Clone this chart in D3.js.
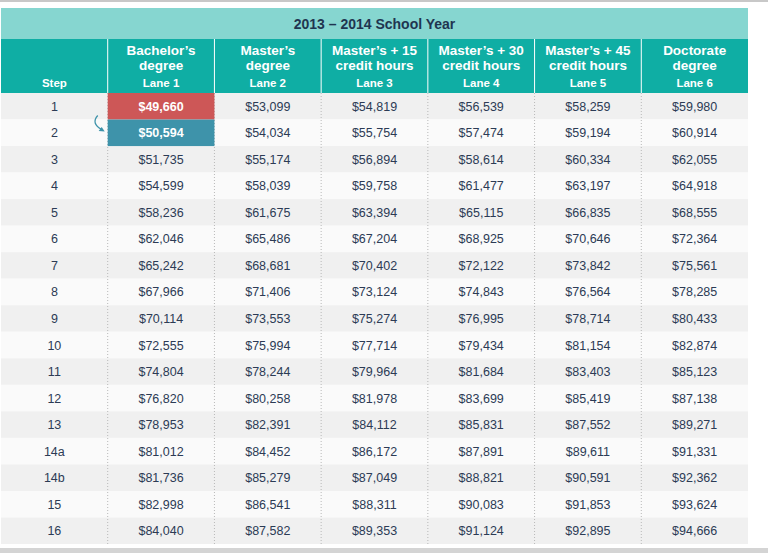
<!DOCTYPE html>
<html><head><meta charset="utf-8">
<script src="https://cdn.jsdelivr.net/npm/d3@7"></script>
<style>body{margin:0;background:#fff}svg{display:block;font-family:"Liberation Sans",Arial,sans-serif}</style>
</head><body><svg id="c" width="768" height="553"></svg>
<script>
const title = "2013 – 2014 School Year";
const laneTitles = [["Bachelor’s","degree"],["Master’s","degree"],["Master’s + 15","credit hours"],["Master’s + 30","credit hours"],["Master’s + 45","credit hours"],["Doctorate","degree"]];
const laneLabels = ["Lane 1","Lane 2","Lane 3","Lane 4","Lane 5","Lane 6"];
const steps = ["1","2","3","4","5","6","7","8","9","10","11","12","13","14a","14b","15","16"];
const lane1 = [49660,50594,51735,54599,58236,62046,65242,67966,70114,72555,74804,76820,78953,81012,81736,82998,84040];
const lane2 = [53099,54034,55174,58039,61675,65486,68681,71406,73553,75994,78244,80258,82391,84452,85279,86541,87582];
const lane3 = [54819,55754,56894,59758,63394,67204,70402,73124,75274,77714,79964,81978,84112,86172,87049,88311,89353];
const lane4 = [56539,57474,58614,61477,65115,68925,72122,74843,76995,79434,81684,83699,85831,87891,88821,90083,91124];
const lane5 = [58259,59194,60334,63197,66835,70646,73842,76564,78714,81154,83403,85419,87552,89611,90591,91853,92895];
const lane6 = [59980,60914,62055,64918,68555,72364,75561,78285,80433,82874,85123,87138,89271,91331,92362,93624,94666];
const lanes = [lane1,lane2,lane3,lane4,lane5,lane6];

const svg = d3.select("#c");
const L = 1, R = 748;
const cols = ["step", ...laneLabels];
const x = d3.scaleBand().domain(cols).range([L, R]);
// step column narrower? use custom widths via band; steps col ~107 as all
const y = d3.scaleBand().domain(steps).range([93, 544]);
const fmt = v => "$" + d3.format(",")(v);
const txt = "#2c3b55";

svg.append("rect").attr("x",0).attr("y",0).attr("width",768).attr("height",2).attr("fill","#c8c8c8");
svg.append("rect").attr("x",0).attr("y",548).attr("width",768).attr("height",5).attr("fill","#d4d4d4");
svg.append("rect").attr("x",L).attr("y",8).attr("width",R-L).attr("height",31).attr("fill","#86d6d0");
svg.append("text").attr("x",(L+R)/2).attr("y",29).attr("text-anchor","middle").attr("font-size",14).attr("font-weight","bold").attr("fill","#1f3550").text(title);
svg.append("rect").attr("x",L).attr("y",39).attr("width",R-L).attr("height",54).attr("fill","#0faea4");

// rows
svg.selectAll("rect.row").data(steps).join("rect").attr("class","row")
  .attr("x",L).attr("y",d=>y(d)).attr("width",R-L).attr("height",y.bandwidth())
  .attr("fill",(d,i)=>i%2===0?"#f0f0f0":"#fafafa");

// header
const hg = svg.append("g");
laneTitles.forEach((t,i)=>{
  const cx = x(laneLabels[i]) + x.bandwidth()/2;
  t.forEach((s,j)=> hg.append("text").attr("x",cx).attr("y",55+j*15).attr("text-anchor","middle").attr("font-size",13.5).attr("font-weight","bold").attr("fill","#fff").text(s));
  hg.append("text").attr("x",cx).attr("y",87).attr("text-anchor","middle").attr("font-size",11.5).attr("font-weight","bold").attr("fill","#fff").text(laneLabels[i]);
});
hg.append("text").attr("x",x("step")+x.bandwidth()/2).attr("y",87).attr("text-anchor","middle").attr("font-size",11.5).attr("font-weight","bold").attr("fill","#fff").text("Step");
laneLabels.forEach(l=> svg.append("line").attr("x1",x(l)).attr("x2",x(l)).attr("y1",39).attr("y2",93).attr("stroke","#fff").attr("stroke-width",1));
laneLabels.forEach(l=> svg.append("line").attr("x1",x(l)).attr("x2",x(l)).attr("y1",93).attr("y2",544).attr("stroke","#b8b8b8").attr("stroke-dasharray","1,2"));

// highlight cells
svg.append("rect").attr("x",x("Lane 1")).attr("y",y("1")).attr("width",x.bandwidth()).attr("height",y.bandwidth()).attr("fill","#cd5757");
svg.append("rect").attr("x",x("Lane 1")).attr("y",y("2")).attr("width",x.bandwidth()).attr("height",y.bandwidth()).attr("fill","#3e93aa");
// arrow
const ax = x("Lane 1");
svg.append("path").attr("d",`M${ax-10},${y("1")+y.bandwidth()-4} Q${ax-17},${y("2")+4} ${ax-6},${y("2")+10}`).attr("fill","none").attr("stroke","#3e93aa").attr("stroke-width",1.3);
svg.append("path").attr("d",`M${ax-3},${y("2")+12} l-6,-0.5 l3,-4 z`).attr("fill","#3e93aa");

// body text
const bg = svg.append("g").attr("font-size",12.5).attr("text-anchor","middle");
steps.forEach((s,r)=>{
  const cy = y(s)+y.bandwidth()/2+4.5;
  bg.append("text").attr("x",x("step")+x.bandwidth()/2).attr("y",cy).attr("fill",txt).text(s);
  lanes.forEach((arr,i)=>{
    const hl = i===0 && r<2;
    bg.append("text").attr("x",x(laneLabels[i])+x.bandwidth()/2).attr("y",cy)
      .attr("fill",hl?"#fff":txt).attr("font-weight",hl?"bold":"normal").text(fmt(arr[r]));
  });
});
</script></body></html>
